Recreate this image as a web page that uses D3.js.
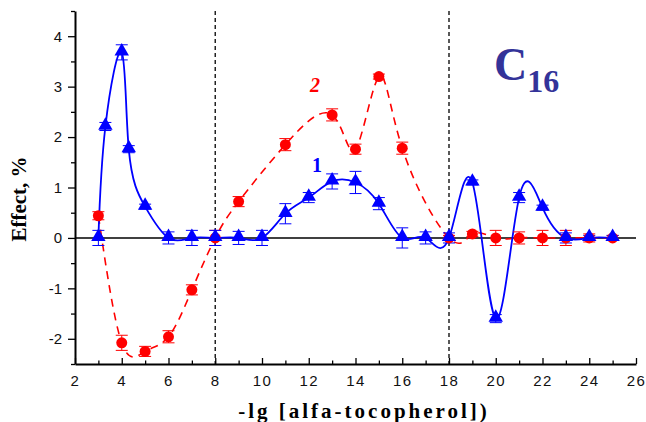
<!DOCTYPE html>
<html>
<head>
<meta charset="utf-8">
<script src="https://cdn.jsdelivr.net/npm/d3@7"></script>
<style>
body { margin: 0; background: #fff; }
</style>
</head>
<body>
<script>
// series 1 (blue triangles)
var x1 = [3, 3.3, 4, 4.3, 5, 6, 7, 8, 9, 10, 11, 12, 13, 14, 15, 16, 17, 18, 19, 20, 21, 22, 23, 24, 25];
var y1 = [0, 2.21, 3.68, 1.76, 0.62, 0, 0, 0, 0, 0, 0.48, 0.8, 1.12, 1.1, 0.68, 0, 0, 0, 1.1, -1.6, 0.8, 0.6, 0, 0, 0];
var e1 = [0.15, 0.08, 0.15, 0.07, 0.05, 0.12, 0.15, 0.15, 0.13, 0.15, 0.2, 0.1, 0.15, 0.22, 0.12, 0.2, 0.12, 0.1, 0.05, 0.08, 0.1, 0.05, 0.1, 0.05, 0.05];
// series 2 (red circles)
var x2 = [3, 4, 5, 6, 7, 8, 9, 11, 13, 14, 15, 16, 18, 19, 20, 21, 22, 23, 24, 25];
var y2 = [0.44, -2.08, -2.25, -1.96, -1.03, 0, 0.72, 1.85, 2.44, 1.76, 3.2, 1.78, 0, 0.08, 0, 0, 0, 0, 0, 0];
var e2 = [0.08, 0.15, 0.1, 0.12, 0.1, 0.15, 0.1, 0.12, 0.12, 0.1, 0.05, 0.12, 0.05, 0.05, 0.15, 0.12, 0.15, 0.15, 0.08, 0.05];

var xTicks = [2, 4, 6, 8, 10, 12, 14, 16, 18, 20, 22, 24, 26];
var yTicks = [-2, -1, 0, 1, 2, 3, 4];
var vLines = [8, 18];

var w = 646, h = 422;
var svg = d3.select("body").append("svg")
    .attr("width", w)
    .attr("height", h);

var x = d3.scaleLinear().domain([2, 26]).range([75, 636]);
var y = d3.scaleLinear().domain([-2.5, 4.5]).range([364, 11]);

// zero line
svg.append("line")
    .attr("x1", x(2)).attr("x2", x(26))
    .attr("y1", y(0)).attr("y2", y(0))
    .attr("stroke", "#000").attr("stroke-width", 1.5);

// dashed verticals
svg.selectAll("line.vl").data(vLines).enter().append("line")
    .attr("class", "vl")
    .attr("x1", function(d) { return x(d); })
    .attr("x2", function(d) { return x(d); })
    .attr("y1", y(4.5)).attr("y2", y(-2.5))
    .attr("stroke", "#222").attr("stroke-width", 1.5)
    .attr("stroke-dasharray", "4,3");

// axes
var xAxis = d3.axisBottom(x).tickValues(d3.range(2, 27, 1)).tickSizeOuter(0)
    .tickFormat(function(d) { return xTicks.indexOf(d) >= 0 ? d : ""; });
var gx = svg.append("g").attr("transform", "translate(0," + y(-2.5) + ")").call(xAxis);
gx.selectAll(".tick line").attr("y2", function(d) { return d % 2 == 0 ? -6 : -3.5; });
gx.selectAll(".tick text").attr("y", 11).attr("dy", "0.71em");

var yAxis = d3.axisLeft(y).tickValues(d3.range(-2.5, 4.51, 0.5)).tickSizeOuter(0)
    .tickFormat(function(d) { return yTicks.indexOf(d) >= 0 ? d : ""; });
var gy = svg.append("g").attr("transform", "translate(" + x(2) + ",0)").call(yAxis);
gy.selectAll(".tick line").attr("x2", function(d) { return yTicks.indexOf(d) >= 0 ? -7 : -4; });
gy.selectAll(".tick text").attr("x", -13);

[gx, gy].forEach(function(g) {
  g.select(".domain").attr("stroke", "#000").attr("stroke-width", 2);
  g.selectAll(".tick line").attr("stroke", "#000").attr("stroke-width", 1.3);
  g.selectAll(".tick text").attr("font-family", "Liberation Sans, Arial, sans-serif")
    .attr("font-size", 15).attr("fill", "#111");
});
gx.selectAll(".tick text").attr("letter-spacing", 1.5);

var d1 = x1.map(function(v, i) { return [v, y1[i], e1[i]]; });
var d2 = x2.map(function(v, i) { return [v, y2[i], e2[i]]; });

var line = d3.line()
    .x(function(d) { return x(d[0]); })
    .y(function(d) { return y(d[1]); })
    .curve(d3.curveNatural);

svg.append("path").datum(d2).attr("d", line)
    .attr("fill", "none").attr("stroke", "#ff0000").attr("stroke-width", 1.6)
    .attr("stroke-dasharray", "8,6");
svg.append("path").datum(d1).attr("d", line)
    .attr("fill", "none").attr("stroke", "#0000ff").attr("stroke-width", 1.8);

function errBars(data, color, cap) {
  var g = svg.append("g").attr("stroke", color).attr("stroke-width", 1);
  data.forEach(function(d) {
    var cx = x(d[0]), t = y(d[1] + d[2]), b = y(d[1] - d[2]);
    g.append("line").attr("x1", cx).attr("x2", cx).attr("y1", t).attr("y2", b);
    g.append("line").attr("x1", cx - cap).attr("x2", cx + cap).attr("y1", t).attr("y2", t);
    g.append("line").attr("x1", cx - cap).attr("x2", cx + cap).attr("y1", b).attr("y2", b);
  });
}
errBars(d2, "#ff0000", 6);
errBars(d1, "#0000ff", 6);

svg.selectAll("circle.p2").data(d2).enter().append("circle")
    .attr("class", "p2")
    .attr("cx", function(d) { return x(d[0]); })
    .attr("cy", function(d) { return y(d[1]); })
    .attr("r", 5.5).attr("fill", "#ff0000");

svg.selectAll("path.p1").data(d1).enter().append("path")
    .attr("class", "p1")
    .attr("d", d3.symbol().type(d3.symbolTriangle).size(90))
    .attr("transform", function(d) { return "translate(" + x(d[0]) + "," + (y(d[1]) - 1) + ")"; })
    .attr("fill", "#0000ff");

// labels
svg.append("text").attr("x", 317).attr("y", 172).text("1")
    .attr("font-family", "Liberation Serif, Times New Roman, serif")
    .attr("font-weight", "bold").attr("font-size", 20).attr("fill", "#0000ff")
    .attr("text-anchor", "middle");
svg.append("text").attr("x", 315).attr("y", 92).text("2")
    .attr("font-family", "Liberation Serif, Times New Roman, serif")
    .attr("font-weight", "bold").attr("font-style", "italic").attr("font-size", 20).attr("fill", "#ff0000")
    .attr("text-anchor", "middle");

var c = svg.append("text").attr("x", 494).attr("y", 80)
    .attr("font-family", "Liberation Serif, Times New Roman, serif")
    .attr("font-weight", "bold").attr("fill", "#333399");
c.append("tspan").attr("font-size", 46).text("C");
c.append("tspan").attr("font-size", 32).attr("dy", 12).text("16");

svg.append("text")
    .attr("transform", "translate(26,199) rotate(-90)")
    .attr("text-anchor", "middle")
    .attr("font-family", "Liberation Serif, Times New Roman, serif")
    .attr("font-weight", "bold").attr("font-size", 21)
    .text("Effect, %");

svg.append("text")
    .attr("x", 364).attr("y", 418)
    .attr("text-anchor", "middle")
    .attr("font-family", "Liberation Serif, Times New Roman, serif")
    .attr("font-weight", "bold").attr("font-size", 21).attr("letter-spacing", 3)
    .text("-lg [alfa-tocopherol])");
</script>
</body>
</html>
